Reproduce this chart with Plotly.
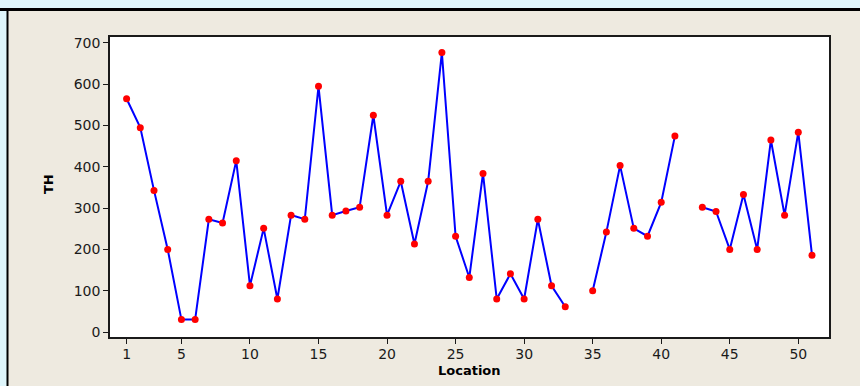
import plotly.graph_objects as go

# Total hardness (TH) measured at each sampling location; None = no sample
locations = list(range(1, 52))
th_values = [
    565, 495, 343, 200, 30, 30, 273, 264, 415, 112,
    251, 80, 283, 273, 595, 283, 293, 302, 525, 283,
    365, 213, 365, 677, 232, 132, 384, 80, 141, 80,
    273, 112, 61, None, 100, 242, 403, 251, 232, 314,
    475, None, 302, 292, 200, 333, 200, 465, 283, 484,
    186,
]
x_ticks = [1, 5, 10, 15, 20, 25, 30, 35, 40, 45, 50]
y_ticks = [0, 100, 200, 300, 400, 500, 600, 700]

W, H = 860, 386
L, R, T, B = 110, 31, 37, 49
PW, PH = W - L - R, H - T - B


def px(xp):
    return (xp - L) / PW


def py(yp):
    return (H - B - yp) / PH


fig = go.Figure()
fig.add_trace(go.Scatter(
    x=locations, y=th_values, mode="lines+markers",
    connectgaps=False,
    line=dict(color="#0000FF", width=2),
    marker=dict(color="#FF0000", size=7, line=dict(width=0)),
    showlegend=False,
))

tick_font = dict(family="DejaVu Sans", size=14, color="#1a1a1a")
axis_common = dict(
    showgrid=False, zeroline=False, showline=True, linecolor="#1a1a1a",
    linewidth=1.5, mirror=True, ticks="outside", ticklen=5, tickwidth=1,
    tickcolor="#1a1a1a", tickfont=tick_font,
)
fig.update_xaxes(range=[-0.21, 52.24], tickvals=x_ticks, ticklabelstandoff=-2,
                 **axis_common)
fig.update_yaxes(range=[-12.1, 714.5], tickvals=y_ticks, **axis_common)

shapes = [
    # light strips outside the framed panel
    dict(type="rect", xref="paper", yref="paper", x0=px(0), x1=px(W), y0=py(0), y1=py(9),
         fillcolor="#DFF6FB", line_width=0, layer="below"),
    dict(type="rect", xref="paper", yref="paper", x0=px(0), x1=px(7), y0=py(9), y1=py(H),
         fillcolor="#DFF6FB", line_width=0, layer="below"),
    # panel frame lines
    dict(type="line", xref="paper", yref="paper", x0=px(0), x1=px(W), y0=py(9.5), y1=py(9.5),
         line=dict(color="#000000", width=3), layer="above"),
    dict(type="line", xref="paper", yref="paper", x0=px(7.5), x1=px(7.5), y0=py(9.5), y1=py(H),
         line=dict(color="#000000", width=2), layer="above"),
]

annotations = [
    dict(text="<b>TH</b>", xref="paper", yref="paper", x=px(48), y=py(184),
         textangle=-90, showarrow=False, xanchor="center", yanchor="middle",
         font=dict(family="DejaVu Sans", size=13, color="#000000")),
    dict(text="<b>Location</b>", xref="paper", yref="paper", x=px(469), y=py(370),
         showarrow=False, xanchor="center", yanchor="middle",
         font=dict(family="DejaVu Sans", size=13, color="#000000")),
]

fig.update_layout(
    width=W, height=H,
    margin=dict(l=L, r=R, t=T, b=B),
    paper_bgcolor="#EEEAE0", plot_bgcolor="#FFFFFF",
    shapes=shapes, annotations=annotations,
)

fig.write_html("out.html")
